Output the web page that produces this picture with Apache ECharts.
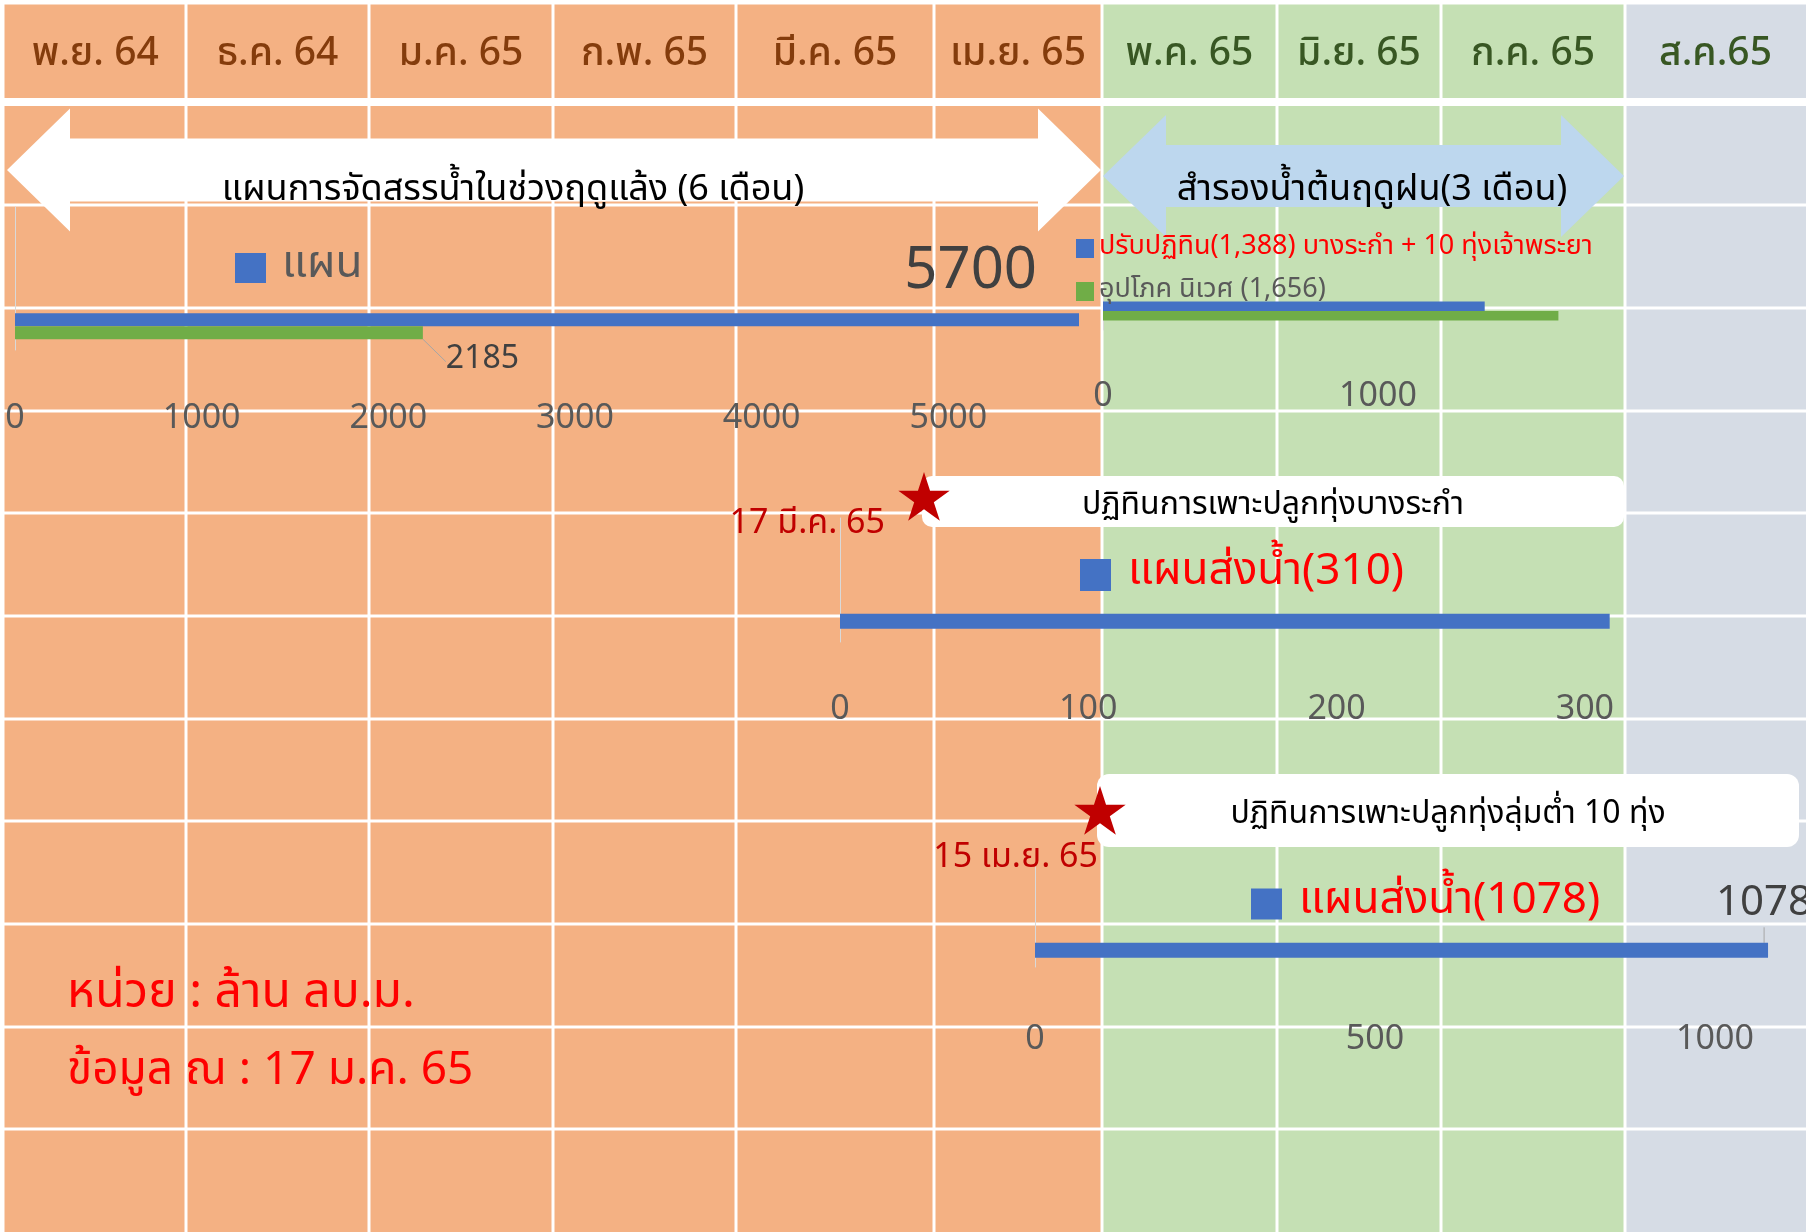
<!DOCTYPE html>
<html>
<head>
<meta charset="utf-8">
<script src="https://cdn.jsdelivr.net/npm/echarts@6/dist/echarts.min.js"></script>
<style>
  html, body { margin: 0; padding: 0; background: #ffffff; }
  #chart { width: 1806px; height: 1232px; }
</style>
</head>
<body>
<div id="chart"></div>
<script>
// ---- data ----
const months = ['พ.ย. 64', 'ธ.ค. 64', 'ม.ค. 65', 'ก.พ. 65', 'มี.ค. 65', 'เม.ย. 65', 'พ.ค. 65', 'มิ.ย. 65', 'ก.ค. 65', 'ส.ค.65'];

// Dry-season allocation (6 months)
const dryCategories = ['', '', 'ฤดูแล้ง'];
const dryPlanName = 'แผน';
const dryPlan = [null, null, 5700];
const dryUsedName = 'ผลการจัดสรรน้ำ';
const dryUsed = [null, null, 2185];
const dryTicks = [0, 1000, 2000, 3000, 4000, 5000];

// Early rainy-season reserve (3 months)
const reserveCategories = ['สำรองน้ำ'];
const reserveNames = ['ปรับปฏิทิน(1,388) บางระกำ + 10 ทุ่งเจ้าพระยา', 'อุปโภค นิเวศ (1,656)'];
const reserveShift = [1388];
const reserveEco = [1656];
const reserveTicks = [0, 1000];

// Bang Rakam planting calendar
const bangRakamCategories = ['', '', 'บางระกำ'];
const bangRakamName = 'แผนส่งน้ำ(310)';
const bangRakam = [null, null, 310];
const bangRakamTicks = [0, 100, 200, 300];

// 10 low-lying fields planting calendar
const lowlandCategories = ['', '', 'ทุ่งลุ่มต่ำ'];
const lowlandName = 'แผนส่งน้ำ(1078)';
const lowland = [null, null, 1078];
const lowlandTicks = [0, 500, 1000];

const headerTitleDry = 'แผนการจัดสรรน้ำในช่วงฤดูแล้ง (6 เดือน)';
const headerTitleWet = 'สำรองน้ำต้นฤดูฝน(3 เดือน)';
const bangRakamTitle = 'ปฏิทินการเพาะปลูกทุ่งบางระกำ';
const bangRakamDate = '17 มี.ค. 65';
const lowlandTitle = 'ปฏิทินการเพาะปลูกทุ่งลุ่มต่ำ 10 ทุ่ง';
const lowlandDate = '15 เม.ย. 65';
const unitNote = 'หน่วย : ล้าน ลบ.ม.';
const dateNote = 'ข้อมูล ณ : 17 ม.ค. 65';

// ---- layout & style ----
const FONT = "'Noto Sans Thai', 'Noto Sans', 'DejaVu Sans', sans-serif";
const BLUE = '#4472C4', GREEN = '#70AD47';
const colEdges = [4.5, 186, 369, 553, 736, 934, 1102, 1277, 1441, 1625, 1806];
const colFill = ['#F4B183', '#F4B183', '#F4B183', '#F4B183', '#F4B183', '#F4B183', '#C5E0B4', '#C5E0B4', '#C5E0B4', '#D6DCE5'];
const colText = ['#843C0C', '#843C0C', '#843C0C', '#843C0C', '#843C0C', '#843C0C', '#385723', '#385723', '#385723', '#385723'];
const rowLines = [205, 308, 411, 513, 616, 719, 821, 924, 1027, 1129];
const headerTop = 4.5, headerBottom = 98, bodyTop = 106, bodyBottom = 1232;

const bg = [];
for (let i = 0; i < months.length; i++) {
  const x0 = i === 0 ? colEdges[0] : colEdges[i] + 1.5;
  const x1 = i === months.length - 1 ? colEdges[i + 1] : colEdges[i + 1] - 1.5;
  bg.push({ type: 'rect', z: -10, silent: true,
    shape: { x: x0, y: headerTop, width: x1 - x0, height: headerBottom - headerTop },
    style: { fill: colFill[i] } });
  bg.push({ type: 'rect', z: -10, silent: true,
    shape: { x: x0, y: bodyTop, width: x1 - x0, height: bodyBottom - bodyTop },
    style: { fill: colFill[i] } });
  bg.push({ type: 'text', z: -9, silent: true,
    style: { text: months[i], x: (colEdges[i] + colEdges[i + 1]) / 2, y: 57,
      fill: colText[i], fontSize: 39, fontWeight: 500, fontFamily: FONT, align: 'center', verticalAlign: 'middle' } });
}
rowLines.forEach(y => bg.push({ type: 'rect', z: -9, silent: true,
  shape: { x: 0, y: y - 1.5, width: 1806, height: 3 }, style: { fill: '#ffffff' } }));

function doubleArrow(x0, x1, cy, headW, headH, shaftH, fill) {
  return { type: 'polygon', z: -8, silent: true,
    shape: { points: [
      [x0, cy], [x0 + headW, cy - headH / 2], [x0 + headW, cy - shaftH / 2],
      [x1 - headW, cy - shaftH / 2], [x1 - headW, cy - headH / 2], [x1, cy],
      [x1 - headW, cy + headH / 2], [x1 - headW, cy + shaftH / 2],
      [x0 + headW, cy + shaftH / 2], [x0 + headW, cy + headH / 2]] },
    style: { fill: fill } };
}
function star(cx, cy, R, fill) {
  const pts = [], r = R * 0.382;
  for (let k = 0; k < 10; k++) {
    const a = -Math.PI / 2 + k * Math.PI / 5;
    const rad = k % 2 === 0 ? R : r;
    pts.push([cx + rad * Math.cos(a), cy + rad * Math.sin(a)]);
  }
  return { type: 'polygon', z: 20, silent: true, shape: { points: pts }, style: { fill: fill } };
}
function label(text, x, y, size, color, align) {
  return { type: 'text', z: 21, silent: true,
    style: { text: text, x: x, y: y, fill: color, fontSize: size, fontFamily: FONT,
      align: align || 'center', verticalAlign: 'middle' } };
}

const deco = [
  doubleArrow(7, 1101, 170, 63, 123, 63, '#ffffff'),
  label(headerTitleDry, 513, 193, 36, '#000000'),
  doubleArrow(1103, 1624, 176, 63, 122, 62, '#BDD7EE'),
  label(headerTitleWet, 1372, 193, 36, '#000000'),
  { type: 'rect', z: 19, silent: true, shape: { x: 922, y: 476, width: 702, height: 51, r: 10 }, style: { fill: '#ffffff' } },
  label(bangRakamTitle, 1273, 508, 32, '#000000'),
  star(924, 499, 27, '#C00000'),
  label(bangRakamDate, 885, 526, 34, '#C00000', 'right'),
  { type: 'rect', z: 19, silent: true, shape: { x: 1097, y: 774, width: 702, height: 73, r: 12 }, style: { fill: '#ffffff' } },
  label(lowlandTitle, 1448, 817, 32, '#000000'),
  star(1100, 813, 27, '#C00000'),
  label(lowlandDate, 1098, 860, 34, '#C00000', 'right'),
  label(unitNote, 67, 997, 48, '#FF0000', 'left'),
  label(dateNote, 67, 1075, 46, '#FF0000', 'left')
];

function valueAxis(gridIndex, ticks, max, margin) {
  return {
    type: 'value', gridIndex: gridIndex, min: ticks[0], max: max, interval: ticks[1] - ticks[0],
    axisLine: { show: false }, axisTick: { show: false }, splitLine: { show: false },
    axisLabel: { showMaxLabel: false, color: '#595959', fontSize: 34, fontFamily: FONT, margin: margin,
      formatter: v => String(v) }
  };
}
function categoryAxis(gridIndex, cats) {
  return {
    type: 'category', gridIndex: gridIndex, data: cats, inverse: true,
    axisLine: { show: true, lineStyle: { color: '#D9D9D9', width: 1 } },
    axisTick: { show: false }, axisLabel: { show: false }, splitLine: { show: false }
  };
}

const chart = echarts.init(document.getElementById('chart'), null, { renderer: 'canvas' });
chart.setOption({
  animation: false,
  backgroundColor: '#ffffff',
  textStyle: { fontFamily: FONT },
  grid: [
    { left: 15, top: 207, width: 1120, height: 143 },
    { left: 1103, top: 292, width: 550, height: 38 },
    { left: 840, top: 518, width: 869, height: 124 },
    { left: 1035, top: 867, width: 748, height: 100 }
  ],
  xAxis: [
    valueAxis(0, dryTicks, 6000, 54),
    valueAxis(1, reserveTicks, 2000, 52),
    valueAxis(2, bangRakamTicks, 350, 53),
    valueAxis(3, lowlandTicks, 1100, 58)
  ],
  yAxis: [
    categoryAxis(0, dryCategories),
    categoryAxis(1, reserveCategories),
    categoryAxis(2, bangRakamCategories),
    categoryAxis(3, lowlandCategories)
  ],
  legend: [
    { data: [dryPlanName], left: 235, top: 246, padding: 0, icon: 'rect', itemWidth: 31, itemHeight: 30,
      selectedMode: false, textStyle: { fontSize: 44, color: '#595959', fontFamily: FONT, padding: [0, 0, 0, 11] } },
    { data: [{ name: reserveNames[0], textStyle: { color: '#FF0000' } }, { name: reserveNames[1], textStyle: { color: '#595959' } }],
      orient: 'vertical', left: 1076, top: 235, padding: 0, icon: 'rect', itemWidth: 18, itemHeight: 19, itemGap: 16,
      selectedMode: false, textStyle: { fontSize: 27, fontFamily: FONT } },
    { data: [bangRakamName], left: 1080, top: 553, padding: 0, icon: 'rect', itemWidth: 31, itemHeight: 32,
      selectedMode: false, textStyle: { fontSize: 44, color: '#FF0000', fontFamily: FONT, padding: [0, 0, 0, 12] } },
    { data: [lowlandName], left: 1251, top: 882, padding: 0, icon: 'rect', itemWidth: 31, itemHeight: 31,
      selectedMode: false, textStyle: { fontSize: 44, color: '#FF0000', fontFamily: FONT, padding: [0, 0, 0, 12] } }
  ],
  graphic: { elements: bg.concat(deco) },
  series: [
    { name: dryPlanName, type: 'bar', xAxisIndex: 0, yAxisIndex: 0, data: dryPlan, barWidth: 13, barGap: '0%',
      itemStyle: { color: BLUE },
      label: { show: true, position: 'insideRight', offset: [-37, -43], fontSize: 58, color: '#404040', fontFamily: FONT } },
    { name: dryUsedName, type: 'bar', xAxisIndex: 0, yAxisIndex: 0, data: dryUsed, barWidth: 13, barGap: '0%',
      itemStyle: { color: GREEN },
      label: { show: true, position: 'right', fontSize: 32, color: '#404040', fontFamily: FONT },
      labelLayout: { dx: 18, dy: 29 },
      labelLine: { show: true, lineStyle: { color: '#A6A6A6', width: 1 } } },
    { name: reserveNames[0], type: 'bar', xAxisIndex: 1, yAxisIndex: 1, data: reserveShift, barWidth: 9.5, barGap: '0%',
      itemStyle: { color: BLUE } },
    { name: reserveNames[1], type: 'bar', xAxisIndex: 1, yAxisIndex: 1, data: reserveEco, barWidth: 9.5, barGap: '0%',
      itemStyle: { color: GREEN } },
    { name: bangRakamName, type: 'bar', xAxisIndex: 2, yAxisIndex: 2, data: bangRakam, barWidth: 15,
      itemStyle: { color: BLUE } },
    { name: lowlandName, type: 'bar', xAxisIndex: 3, yAxisIndex: 3, data: lowland, barWidth: 15,
      itemStyle: { color: BLUE },
      label: { show: true, position: 'right', fontSize: 42, color: '#404040', fontFamily: FONT },
      labelLayout: { dx: -57, dy: -44 },
      labelLine: { show: true, lineStyle: { color: '#A6A6A6', width: 1 } } }
  ]
});
</script>
</body>
</html>
